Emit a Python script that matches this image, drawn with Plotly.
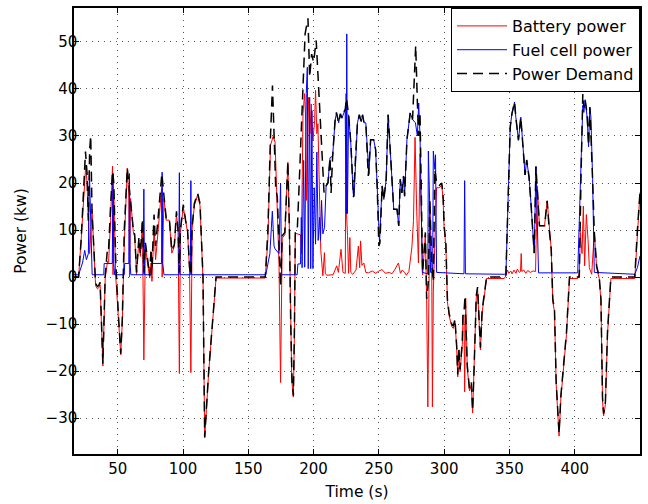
import plotly.graph_objects as go

# Power demand (kW) over the drive cycle
t_demand = [16.5, 20, 22, 24, 25.3, 26.5, 27.5, 28.5, 29.3, 30.3, 31.5, 32.8, 33.3, 34.5, 35.4, 36.5, 38.6,
            40.4, 42.2, 43, 44.5, 46, 47, 48.5, 50.5, 52.3, 53.5, 55, 57.3, 58.5, 59.8, 61.9, 63, 64.4,
            66.2, 67.4, 68.9, 70, 71.2, 72.5, 74.5, 75.5, 76.2, 77.8, 79, 80.8, 82, 83.8, 85.4, 87.1,
            89.5, 91.4, 93.4, 95, 96.2, 97.2, 98, 100.2, 102, 103.5, 105, 106, 107, 108.7, 111.2, 113,
            115.3, 116.6, 119.6, 123, 125.3, 163, 165, 167, 168.5, 170, 171, 172.2, 173.5, 174.7, 176,
            178, 180.3, 181.5, 182.5, 183.5, 184.5, 185.3, 186, 187.5, 189, 190.5, 192, 193.5, 195.7,
            197, 198.5, 200, 202, 203.5, 205, 206.5, 208, 209.6, 211, 212.6, 213.4, 214.6, 216.4, 217.5,
            219.2, 220.5, 221.7, 223, 224.2, 225.2, 226.8, 228.5, 230.6, 232.3, 233.6, 235, 236.5, 237.5,
            238.6, 240, 241.9, 243.7, 246, 247.5, 248.7, 250, 250.8, 251.5, 252.5, 253.8, 255.6, 257.1,
            258.2, 260.1, 261.4, 263.9, 265.2, 266.4, 267.6, 268.9, 269.7, 271.5, 274, 275.8, 277, 278.2,
            279.5, 280.5, 281.5, 282.5, 283.5, 285.6, 286.6, 287.9, 289, 290.5, 291.7, 292.9, 294.2, 296,
            298.2, 299.2, 300, 301.3, 302.5, 303.8, 305.8, 307, 308.3, 309.6, 310.4, 311.2, 312.2, 313.9,
            314.4, 315.2, 316, 317.7, 319.4, 320.8, 321.8, 322.7, 324, 324.6, 325.6, 326.6, 327.8, 329.1,
            330.3, 332.5, 346, 347.3, 348.5, 350.6, 351.9, 353.9, 354.9, 356.9, 358.7, 360.8, 362, 363.2,
            365, 366.5, 367.5, 369, 370.3, 371.3, 373, 376.9, 378.9, 380.5, 382, 383.2, 384.5, 385.8,
            386.8, 388, 389.4, 391.5, 393.7, 396, 403.5, 404.8, 405.5, 406.2, 407, 408, 409.5, 410.6,
            411.6, 412.6, 413.7, 415, 416.8, 418.8, 420.1, 421.3, 422.1, 423.5, 425.1, 427.7, 446, 448, 450]
p_demand = [0, 0, 8, 20, 26.7, 22, 12, 27, 30, 14, 6, 0, -1.5, -2, -1.8, -1.1, -18.4,
            0.3, 6.3, 6, 15, 22.5, 20, 3, -8, -16.3, -9, 10, 23.2, 20, 17.2, 10.2, 9, 1,
            8.4, 4.9, 12.3, 1, 7.3, 4, 0.3, 6, 2, 13.3, 6.6, 12.3, 16, 22, 17.2, 12.6,
            12.6, 5.6, 7, 14, 10, 1, 10, 15.4, 12, 10, 2, 0.5, 10.8, 15.7, 17.8, 15.7,
            0, -34, -20.2, -9, 0, 0, 10, 30, 40.7, 28, 19, 17, 8, -2, 8.8,
            9.5, 24.6, 10, -10, -22, -25.2, -12, 9.8, 10, 20, 30, 38, 51.7, 55,
            42.5, 47.4, 45.7, 50.3, 42, 34, 28, 18, 19.4, 20, 25.4, 17.9, 25.7, 33.1, 35,
            32.8, 34.7, 33.8, 35, 35.6, 38, 34.5, 28.5, 17, 26.4, 32.8, 34.5, 33, 34.5,
            32.8, 32.8, 21.5, 29.2, 29.2, 27.1, 19.4, 6.6, 7.3, 12.3, 19.4, 16.5, 20.8, 34.5,
            29.9, 20.8, 14.4, 14.4, 10.9, 20.8, 17.9, 21.5, 17.2, 29.2, 34.9, 33.5, 42, 49.2,
            37, 30, 35, 18, 1, 9.5, -4.7, -1, 16.5, 3, -1, 22.9, 20, 19.4,
            20, 17.2, 10.9, 7.3, -4.7, -7.7, -10, -10.4, -8.9, -14.7, -20.7, -15, -19.6, -13.8,
            -7.7, -7.5, -4, -18.8, -23.7, -22.4, -28.4, -21.6, -11.7, -3.9, -2.1, -7.7, -15, -7,
            -4.7, 0, 0, 0.5, 12, 31.9, 34.7, 37.2, 34, 29.1, 34, 24.9, 21.7, 24.9,
            21.3, 15.7, 12.2, 5.1, 23.5, 19.4, 10.9, 10.9, 16.2, 10, 5.9, -4.7, -6.8, -22.3,
            -27.3, -33.3, -25.2, -19, -11.7, 0, 0, 21, 30, 38.9, 36, 37.7, 34.7, 28,
            36.1, 30, 20.8, 9.5, 2.4, 0, -4.7, -25.7, -29, -26.6, -11.7, 0, 0, 10, 18]

# Fuel cell power (kW)
t_fc = [16.5, 20, 23, 24.7, 26, 27.5, 28.3, 29.2, 30.4, 39.3, 39.6, 45.8, 46.4, 47, 47.6, 55, 55.3, 58.5,
        59, 59.5, 60, 69.5, 70, 70.5, 75.8, 76, 83.6, 84, 84.5, 85.4, 96.7, 97.2, 97.7, 105.6, 106,
        106.5, 163.4, 166.5, 168.4, 169.7, 170.5, 173.5, 174.7, 175.5, 187.4, 188, 190, 190.6, 191.2,
        192.4, 193.2, 194.4, 195.2, 195.9, 197, 197.8, 198.7, 199.5, 200.5, 201.5, 202.5, 203.5,
        204.6, 205.3, 206.1, 207.1, 208.4, 209.6, 211, 212.6, 214.6, 216.4, 217.5, 219.2, 220.5,
        221.7, 223, 224.2, 225, 225.4, 225.9, 226.8, 228.5, 230.3, 231, 232.3, 233.6, 235, 236.5,
        237.5, 238.6, 240, 241.2, 242.4, 243.7, 246, 247.5, 248.7, 250, 250.5, 251.3, 252.5, 253.8,
        255.6, 257.1, 258.2, 260.1, 261.4, 263.9, 265.2, 266.4, 267.6, 268.9, 269.7, 271.5, 274,
        275.8, 278, 279.5, 280.5, 281.5, 282.5, 283.3, 287.5, 287.9, 288.9, 289.6, 291.2, 291.7,
        292.9, 293.4, 294.2, 315.2, 315.7, 316.3, 346, 347.3, 348.5, 350.6, 351.9, 353.9, 354.9,
        356.9, 358.7, 360.8, 362, 363.2, 365, 366.5, 367.5, 369, 370.3, 371.3, 372.3, 402.3, 404.8,
        405.5, 406.2, 407, 408, 409.5, 410.6, 411.6, 412.4, 413.7, 415, 446, 448, 450]
p_fc = [0.5, 0.5, 3, 5.7, 3.7, 5, 22.5, 10, 0.5, 0.5, 2.9, 2.9, 22, 2.9, 0.5, 0.5, 2.9, 2.9,
        22, 2.9, 0.5, 0.5, 18.7, 0.5, 0.5, 2.9, 2.9, 22.3, 2.9, 0.5, 0.5, 22.2, 0.5, 0.5, 20.5,
        0.5, 0.5, 5, 14, 6.6, 6, 5, 20, 0.5, 0.5, 2.8, 2.8, 12.7, 2,
        24.8, 2.1, 39, 44.6, 1.8, 38.2, 1.8, 35.4, 1.8, 19, 7, 26.6, 7.8,
        12.7, 7.8, 16.3, 9.2, 10.6, 19.4, 20, 25.4, 25.7, 33.1, 34.9, 32.8, 34.7,
        33.8, 34.9, 35.6, 13.5, 51.7, 13.5, 34.5, 28.5, 17.9, 17.2, 26.4, 32.8, 34.5, 33,
        34.5, 32.8, 32.8, 26.4, 21.8, 29.2, 29.2, 27.1, 19.4, 10.9, 7.3, 12.3, 19.4, 16.5,
        20.8, 34.5, 29.9, 20.8, 14.4, 14.4, 10.9, 20.8, 17.9, 21.5, 17.2, 29.2, 34.9,
        33.5, 32.8, 30, 37, 30, 17, 1, 0.7, 26.8, 16, 1, 1, 26.8,
        22.9, 26, 1, 0.7, 20.5, 0.7, 0.6, 0.7, 12, 31.9, 34.7, 37.2, 34,
        29.1, 34, 24.9, 21.7, 24.9, 21.3, 15.7, 12.2, 5.1, 23.5, 10, 0.9, 0.9, 20.8,
        30, 36.5, 35, 37.7, 34, 27.7, 36.1, 34, 20.8, 1, 0.6, 2, 4.5]

# Battery power (kW)
t_bat = [16.5, 20, 22, 24, 25.5, 26.5, 27.8, 28.5, 30.3, 31.5, 32.8, 33.3, 34.5, 35.4, 36.5, 38.6, 40.4,
         42.2, 43, 44.5, 46, 46.4, 47, 48.5, 50.5, 52.3, 53.5, 55, 57.3, 58.5, 59, 59.8, 61.9, 63,
         64.4, 66.2, 67.4, 68.9, 70, 71.2, 72.5, 74.5, 75.5, 76.2, 77.8, 79, 80.8, 82, 83.6, 84, 85.4,
         87.1, 89.5, 91.4, 93.4, 95, 96.2, 97.2, 98, 100.2, 102, 103.5, 105, 106, 107, 108.7, 111.2,
         113, 115.3, 116.6, 119.6, 123, 125.3, 163, 165, 167, 169, 170.5, 172.3, 173.5, 174.7, 176,
         178, 180.3, 181.5, 182.5, 183.3, 184.5, 185.3, 186, 188, 190, 190.6, 191.9, 193.1, 194,
         194.6, 196.2, 197.2, 198.2, 199.5, 200.8, 201.5, 202.5, 203.3, 204.6, 205.5, 207.1, 208.3,
         209, 210, 215, 217.7, 219, 221, 222.5, 224.3, 224.8, 225.3, 226, 226.8, 227.8, 228.5, 230,
         232.5, 234.3, 235.3, 236, 237, 238.5, 240, 242, 245, 247.5, 250, 252.5, 255, 258, 260, 262,
         265, 266.5, 268, 270, 271, 273, 274.4, 275.3, 276.5, 277.7, 279, 280.3, 281.5, 282.5, 283.5,
         285.6, 286.6, 287.5, 288.3, 289, 290.5, 291, 291.7, 292.9, 294.2, 296, 298.2, 299.2, 300,
         301.3, 302.5, 303.8, 305.8, 307, 308.3, 309.6, 310.4, 311.2, 312.2, 313.9, 314.4, 315.2,
         315.7, 316.5, 317.7, 319.4, 320.8, 321.8, 322.7, 324, 324.6, 325.6, 326.6, 327.8, 329.1,
         330.3, 332.5, 346, 347.3, 348.5, 349.5, 351, 352, 353.5, 355, 356, 357.5, 358.5, 359, 359.5,
         361, 362.5, 364, 366, 368, 370, 371.3, 373, 376.9, 378.9, 380.5, 382, 383.2, 384.5, 385.8,
         386.8, 388, 389.4, 391.5, 393.7, 396, 402.3, 403.5, 404.3, 405.6, 406.6, 407.6, 408.9, 410.2,
         411.2, 413, 415, 416.8, 418.8, 420.1, 421.3, 422.1, 423.5, 425.1, 427.7, 446, 448, 450]
p_bat = [0, 0, 8, 18, 23.7, 20, 7.3, 5, 14.4, 5.5, -0.5, -2, -2.5, -2.3, -1.6, -18.9, -0.2,
         3.4, 3.1, 12, 23.6, 0.5, 17, 0, -8.5, -16.5, -9.5, 7, 23.2, 17, 0, 16.7, 9.7, 8.5,
         0.5, 7.9, 4.4, 11.8, -17.6, 6.8, 3.5, -0.2, 3, -0.9, 10.4, 3.7, 9.4, 13, 19, 0, 16.7,
         12.1, 12.1, 5.1, 6.5, 13.5, 9.5, -20.5, 9.5, 14.9, 11.5, 9.5, 1.5, -20.3, 10.3, 15.2, 17.5,
         15.2, -0.5, -34.2, -20.4, -9.2, -0.2, -0.2, 8, 28, 29.9, 28.7, 13.5, 3, -22.4, 8.3,
         9, 24.4, 9.5, -10.5, -22, -25.5, -12.5, 9.3, 9.2, 9, 5, 34.7, 39, 33,
         16.3, 38.2, 30.5, 36.8, 29, 33.3, 39.7, 30.5, 32.6, 19.1, 5.7, 0.3, 5.2,
         0.8, 0.4, 0.5, 2.4, 1, 5.9, 1, 0.8, 39, 13, 8.8, 0.8, 8.4, 1, 0.6,
         1.5, 6.6, 2, 7.7, 2.5, 3, 1, 0.9, 1.3, 0.8, 1.3, 1.6, 0.8, 1, 0.7, 1.5,
         3, 0.8, 1.5, 0.9, 0.4, 1.2, 5, 6.4, 12, 29.7, 14, 3, 26.2, 10, 0.5,
         9, -4.7, -27.6, -2, 16, 2, -27.6, -3, 10, 19, 19, 19.5, 16.5, 10.2,
         6.8, -5.2, -8.2, -10.5, -10.9, -9.4, -15.2, -21.2, -15.5, -20.1, -14.3, -8.2, -8,
         -24.4, -4.5, -19.3, -24.2, -22.9, -28.9, -22.1, -12.2, -4.4, -2.6, -8.2, -15.5, -7.5,
         -5.2, -0.3, -0.3, 0.3, 1.5, 0.8, 1.3, 0.7, 1.5, 0.8, 1.7, 1, 1.2, 5, 1.2,
         1.5, 0.8, 1.4, 1, 1.3, 1.2, 19.4, 10.9, 10.9, 16.2, 10, 5.9, -5.2, -7.3, -22.8,
         -27.8, -33.8, -25.7, -19.5, -12.2, -0.3, -0.3, 1, 9.5, 5, 15.1, 2.4, 13.3, 8,
         2, 0.6, 9.5, 2, -0.3, -5.2, -26.2, -29.5, -27.1, -12.2, -0.3, -0.3, 10, 18]

x_ticks = [50, 100, 150, 200, 250, 300, 350, 400]
x_tick_labels = ["50", "100", "150", "200", "250", "300", "350", "400"]
y_ticks = [-30, -20, -10, 0, 10, 20, 30, 40, 50]
y_tick_labels = ["\u221230", "\u221220", "\u221210", "0", "10", "20", "30", "40", "50"]

FONT = "DejaVu Sans, Liberation Sans, Arial, sans-serif"

fig = go.Figure()
fig.add_trace(go.Scatter(x=t_bat, y=p_bat, mode="lines", name="Battery power",
                         line=dict(color="#ff0000", width=1)))
fig.add_trace(go.Scatter(x=t_fc, y=p_fc, mode="lines", name="Fuel cell power",
                         line=dict(color="#0000ff", width=1)))
fig.add_trace(go.Scatter(x=t_demand, y=p_demand, mode="lines", name="Power Demand",
                         line=dict(color="#000000", width=1.5, dash="10px,6px")))

axis_common = dict(
    showline=True, linecolor="black", linewidth=1.5, mirror="ticks",
    ticks="inside", ticklen=5, tickwidth=1, tickcolor="black",
    showgrid=True, gridcolor="#555555", gridwidth=1, griddash="1px,5px",
    zeroline=False, tickfont=dict(family=FONT, size=15, color="black"),
)

fig.update_layout(
    width=648, height=504,
    margin=dict(l=74, r=6, t=7, b=49),
    paper_bgcolor="white", plot_bgcolor="white",
    font=dict(family=FONT, size=15, color="black"),
    xaxis=dict(range=[16.5, 450], tickvals=x_ticks, ticktext=x_tick_labels,
               title=dict(text="Time (s)", font=dict(family=FONT, size=15.5), standoff=9),
               **axis_common),
    yaxis=dict(range=[-37.6, 57.2], tickvals=y_ticks, ticktext=y_tick_labels,
               ticklabelposition="outside", ticklabelstandoff=-8,
               title=dict(text="Power (kw)", font=dict(family=FONT, size=15.5), standoff=15),
               **axis_common),
    legend=dict(x=1, y=1, xanchor="right", yanchor="top", bgcolor="white",
                bordercolor="black", borderwidth=1, font=dict(family=FONT, size=16),
                itemwidth=50),
    showlegend=True,
)

fig.write_html("out.html")
